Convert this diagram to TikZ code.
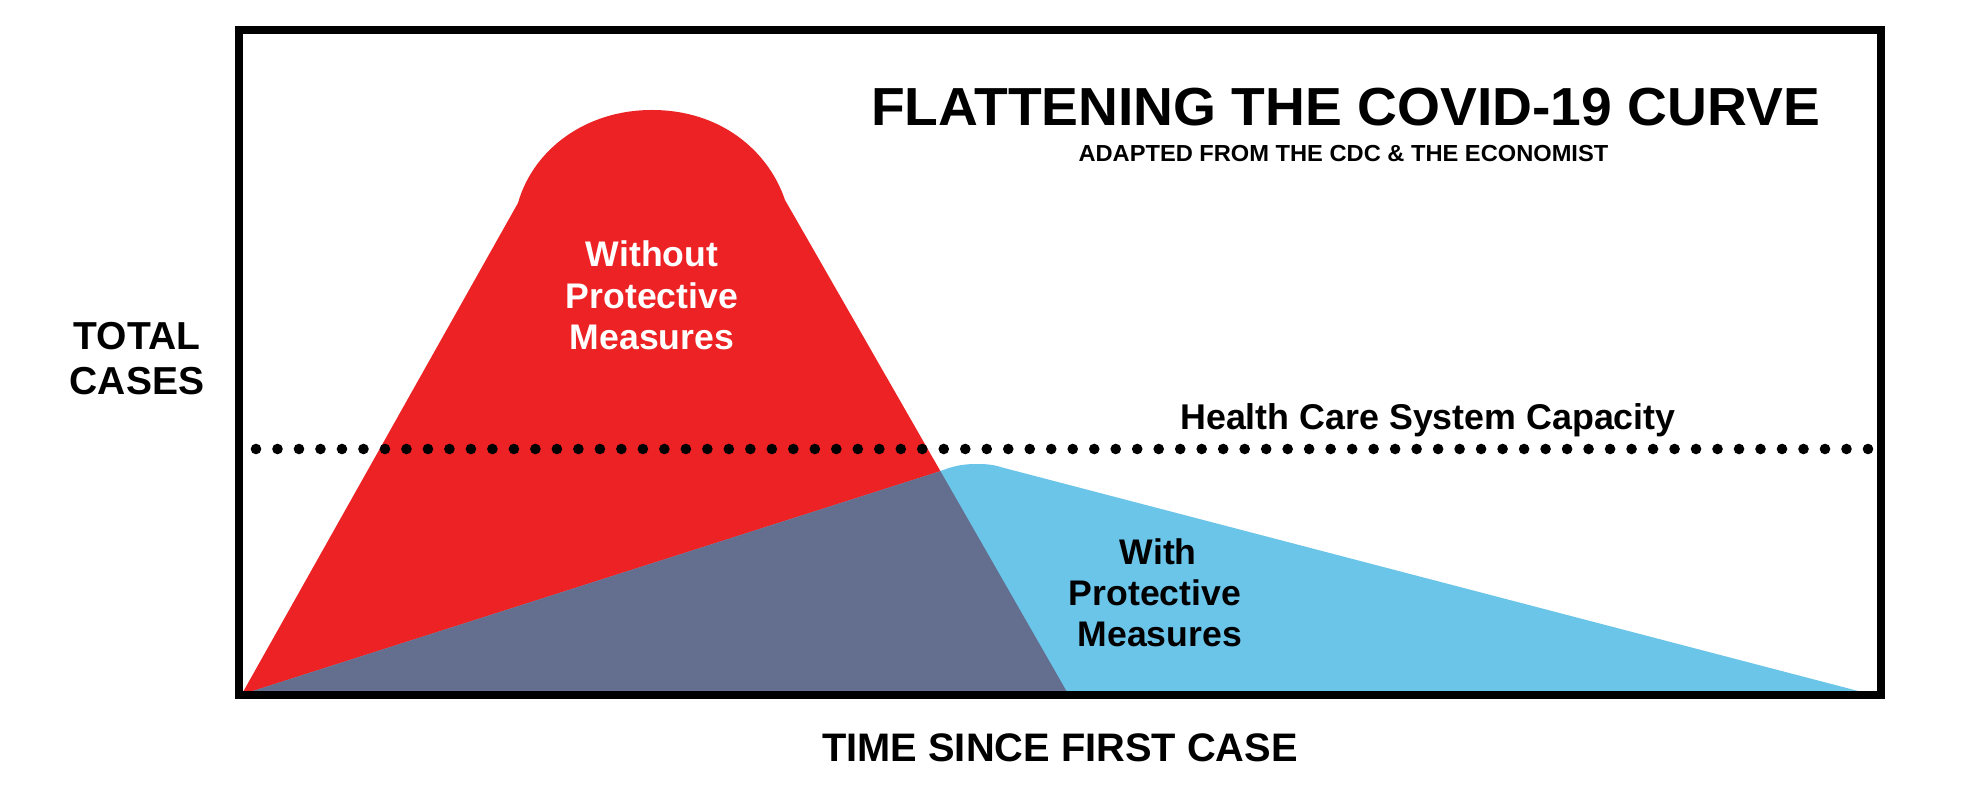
\documentclass[tikz,border=0pt]{standalone}
\usepackage{fontspec}
\setmainfont{Liberation Sans}
\usepackage{graphicx}
\definecolor{covred}{RGB}{236,34,36}
\definecolor{covblue}{RGB}{107,197,233}
\definecolor{covslate}{RGB}{100,110,143}
\tikzset{
  lbl/.style={anchor=base, inner sep=0pt, outer sep=0pt},
  titletext/.style={lbl, font=\bfseries\fontsize{26.8pt}{31pt}\selectfont},
  subtext/.style={lbl, font=\bfseries\fontsize{11.6pt}{14pt}\selectfont},
  axistext/.style={lbl, font=\bfseries\fontsize{19.5pt}{23pt}\selectfont},
  timetext/.style={lbl, font=\bfseries\fontsize{19.9pt}{23pt}\selectfont},
  captext/.style={lbl, font=\bfseries\fontsize{17.9pt}{21pt}\selectfont},
  curvetext/.style={lbl, font=\bfseries\fontsize{17.8pt}{21pt}\selectfont},
  frameline/.style={draw=black, line width=4pt},
}
\begin{document}
\begin{tikzpicture}[x=0.5pt,y=-0.5pt]
\useasboundingbox (0,0) rectangle (1986,785);
\fill[white] (0,0) rectangle (1986,785);

% curve without protective measures
\fill[covred] (243,692) -- (518,203)
  .. controls (533,150) and (585,110) .. (652,110)
  .. controls (720,110) and (768,150) .. (785,200)
  -- (1067,692) -- cycle;

% curve with protective measures
\fill[covblue] (250,692) -- (939,471.7)
  .. controls (955,465) and (965,464) .. (978,464)
  .. controls (990,464) and (996,465.5) .. (1003,467.7)
  -- (1862,692) -- cycle;

% overlap
\begin{scope}
  \clip (243,692) -- (518,203)
    .. controls (533,150) and (585,110) .. (652,110)
    .. controls (720,110) and (768,150) .. (785,200)
    -- (1067,692) -- cycle;
  \fill[covslate] (250,692) -- (939,471.7)
    .. controls (955,465) and (965,464) .. (978,464)
    .. controls (990,464) and (996,465.5) .. (1003,467.7)
    -- (1862,692) -- cycle;
\end{scope}

% capacity line
\foreach \i in {0,...,75}
  \fill[black] ({256+\i*21.493},449) circle[radius=2.65pt];

% frame
\draw[frameline] (239,30) rectangle (1881,695);

% texts
\node[titletext] (title) at (1345.5,125.7) {\scalebox{1.03}[1]{FLATTENING THE COVID-19 CURVE}};
\node[subtext] (subtitle) at (1343.4,161.7) {\scalebox{1.02}[1]{ADAPTED FROM THE CDC \& THE ECONOMIST}};

\node[axistext] (ylab1) at (137,350) {TOTAL};
\node[axistext] (ylab2) at (137,395) {CASES};
\node[timetext] (xlab) at (1060,761) {TIME SINCE FIRST CASE};
\node[captext] (cap) at (1428,429.8) {Health Care System Capacity};

\node[curvetext, text=white] (wo1) at (652,267) {Without};
\node[curvetext, text=white] (wo2) at (652,308.5) {Protective};
\node[curvetext, text=white] (wo3) at (652,350) {Measures};

\node[curvetext] (w1) at (1158.3,564.3) {With};
\node[curvetext] (w2) at (1155,605) {Protective};
\node[curvetext] (w3) at (1159.7,646.7) {Measures};
\end{tikzpicture}
\end{document}
